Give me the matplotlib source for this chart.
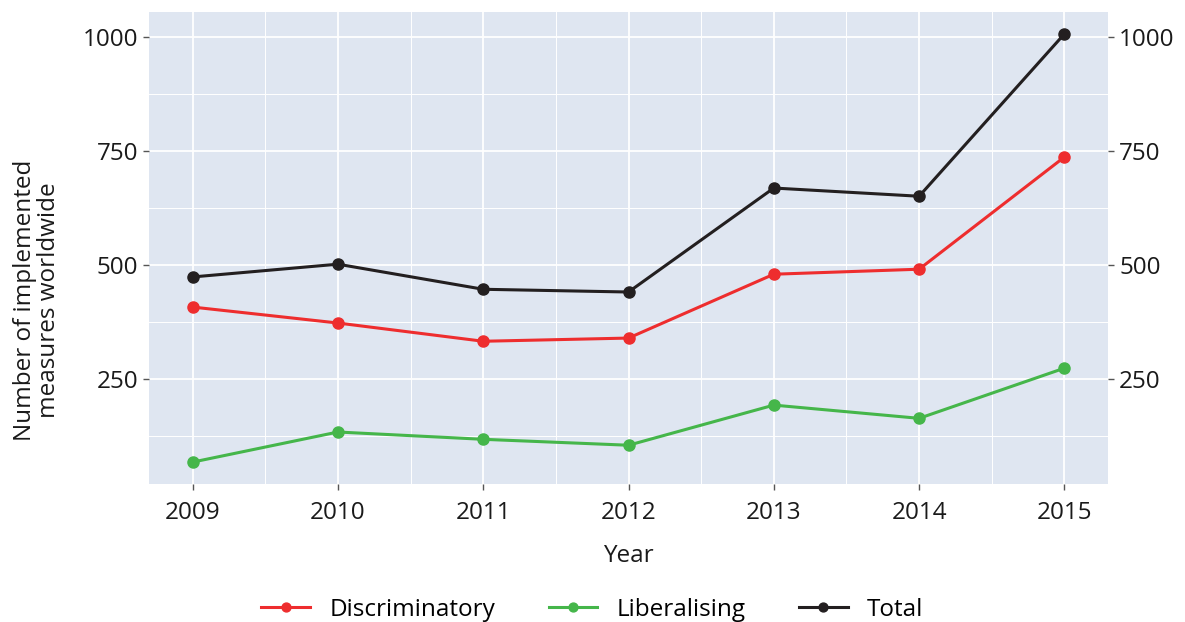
import matplotlib
matplotlib.use('Agg')
import matplotlib.pyplot as plt
import matplotlib.ticker as mticker

# === data ===
years = [2009, 2010, 2011, 2012, 2013, 2014, 2015]
discriminatory = [408, 373, 333, 340, 480, 491, 737]
liberalising = [68, 134, 118, 105, 193, 164, 274]
total = [474, 502, 447, 441, 669, 651, 1007]
y_ticks = [250, 500, 750, 1000]

plt.rcParams['font.family'] = ['Open Sans', 'DejaVu Sans']
FS = 17.5

fig = plt.figure(figsize=(11.85, 6.22), dpi=100)
ax = fig.add_axes([149 / 1185, 1 - 484 / 622, (1108 - 149) / 1185, (484 - 12) / 622])
ax.set_facecolor('#DFE6F1')

ax.plot(years, discriminatory, color='#EE2D2E', lw=2.2, marker='o', ms=8, label='Discriminatory', zorder=3)
ax.plot(years, liberalising, color='#45B64A', lw=2.2, marker='o', ms=8, label='Liberalising', zorder=3)
ax.plot(years, total, color='#231F20', lw=2.2, marker='o', ms=8, label='Total', zorder=3)

ax.set_xlim(2008.7, 2015.3)
ax.set_ylim(20, 1055)
ax.set_xticks(years)
ax.set_yticks(y_ticks)
ax.xaxis.set_minor_locator(mticker.MultipleLocator(0.5))
ax.yaxis.set_minor_locator(mticker.FixedLocator([125, 375, 625, 875]))
ax.grid(True, which='major', color='white', lw=1.3)
ax.grid(True, which='minor', color='white', lw=0.7)
ax.set_axisbelow(True)
for s in ax.spines.values():
    s.set_visible(False)

ax.tick_params(which='major', length=4, width=1, color='#555555', labelsize=FS,
               labelcolor='#1a1a1a', right=True, labelright=True)
ax.tick_params(axis='x', pad=8)
ax.tick_params(axis='y', pad=4)
ax.tick_params(which='minor', length=0)

ax.set_xlabel('Year', fontsize=FS, labelpad=14, color='#1a1a1a')
ax.set_ylabel('Number of implemented\nmeasures worldwide', fontsize=FS,
              color='#1a1a1a', linespacing=1.0)
ax.yaxis.set_label_coords(-0.092, 0.39)

fig.legend(loc='center', bbox_to_anchor=(0.5, 1 - 610 / 622), ncol=3, frameon=False,
           fontsize=FS, handlelength=2.0, handletextpad=0.8, columnspacing=2.2, markerscale=0.8)

fig.savefig('out.png', dpi=100)
